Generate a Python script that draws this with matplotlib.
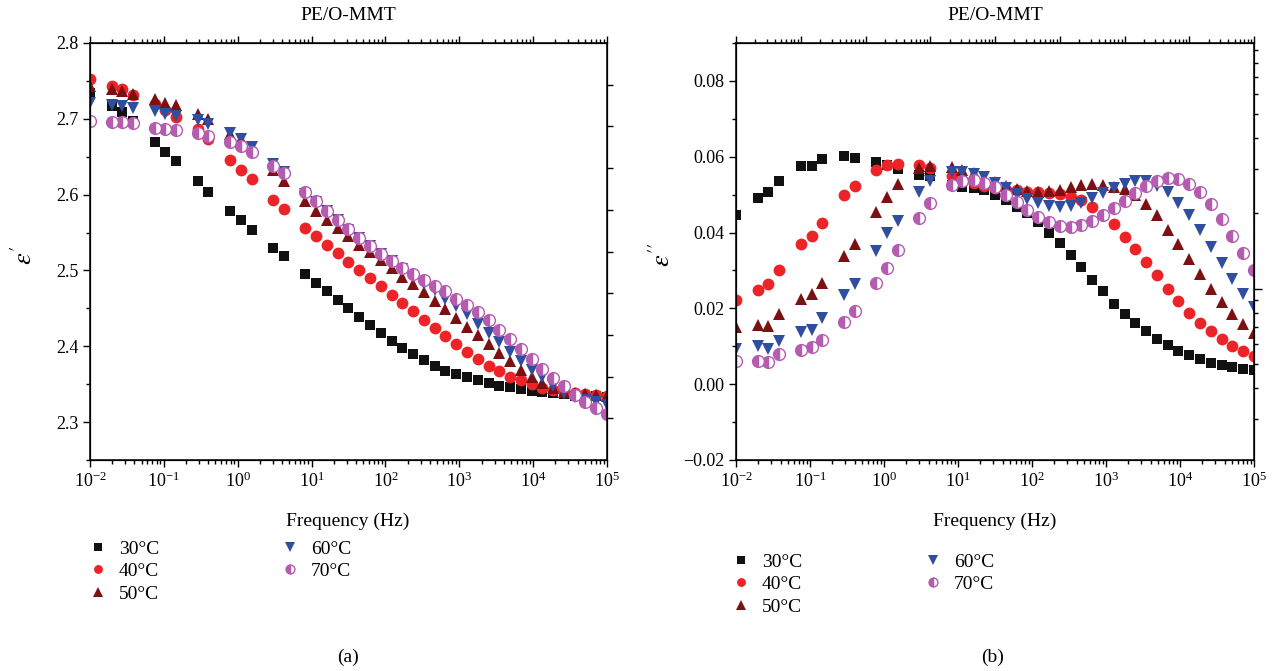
import matplotlib
matplotlib.use('Agg')
import matplotlib.pyplot as plt
from matplotlib.ticker import MultipleLocator, FixedLocator, LogLocator, NullFormatter, FormatStrFormatter, FuncFormatter

plt.rcParams['font.family'] = ['Liberation Serif', 'DejaVu Serif']
plt.rcParams['mathtext.fontset'] = 'stix'

# measurement frequencies (Hz)
freq = [0.01, 0.0196, 0.0274, 0.0383, 0.0750, 0.105, 0.147, 0.287, 0.402,
        0.787, 1.10, 1.54, 3.01, 4.22, 8.25, 11.5, 16.2, 22.6, 31.6, 44.2,
        61.9, 86.6, 121, 170, 237, 332, 464, 649, 909, 1270, 1780, 2490,
        3480, 4870, 6810, 9530, 13300, 18700, 26100, 36500, 51100, 71500, 100000]

# real permittivity
e1_30 = [2.734, 2.717, 2.709, 2.697, 2.670, 2.656, 2.645, 2.618, 2.604, 2.578, 2.567,
         2.554, 2.530, 2.519, 2.495, 2.484, 2.473, 2.461, 2.450, 2.439, 2.428, 2.417,
         2.407, 2.398, 2.390, 2.382, 2.374, 2.368, 2.363, 2.359, 2.355, 2.351, 2.348,
         2.346, 2.344, 2.341, 2.340, 2.338, 2.337, 2.335, 2.334, 2.334, 2.333]
e1_40 = [2.752, 2.743, 2.739, 2.732, 2.719, 2.711, 2.703, 2.687, 2.673, 2.646, 2.633,
         2.620, 2.593, 2.581, 2.556, 2.545, 2.534, 2.523, 2.511, 2.500, 2.490, 2.480,
         2.468, 2.457, 2.446, 2.435, 2.424, 2.413, 2.403, 2.393, 2.383, 2.374, 2.367,
         2.360, 2.355, 2.350, 2.345, 2.342, 2.340, 2.338, 2.337, 2.336, 2.335]
e1_50 = [2.743, 2.739, 2.737, 2.733, 2.726, 2.721, 2.718, 2.707, 2.700, 2.680, 2.674,
         2.663, 2.633, 2.618, 2.591, 2.579, 2.567, 2.556, 2.545, 2.534, 2.524, 2.514,
         2.503, 2.492, 2.482, 2.471, 2.460, 2.449, 2.437, 2.426, 2.415, 2.403, 2.391,
         2.380, 2.369, 2.360, 2.351, 2.345, 2.340, 2.338, 2.337, 2.336, 2.334]
e1_60 = [2.721, 2.718, 2.717, 2.714, 2.710, 2.706, 2.704, 2.698, 2.693, 2.681, 2.673,
         2.663, 2.640, 2.630, 2.601, 2.590, 2.578, 2.566, 2.554, 2.543, 2.532, 2.522,
         2.512, 2.502, 2.492, 2.482, 2.474, 2.463, 2.453, 2.442, 2.430, 2.418, 2.406,
         2.393, 2.381, 2.369, 2.359, 2.347, 2.338, 2.333, 2.329, 2.326, 2.322]
e1_70 = [2.697, 2.696, 2.696, 2.694, 2.688, 2.687, 2.685, 2.681, 2.677, 2.669, 2.664,
         2.656, 2.638, 2.628, 2.604, 2.591, 2.579, 2.567, 2.555, 2.543, 2.532, 2.522,
         2.513, 2.503, 2.495, 2.488, 2.480, 2.473, 2.463, 2.455, 2.445, 2.434, 2.422,
         2.409, 2.396, 2.383, 2.370, 2.358, 2.347, 2.336, 2.327, 2.319, 2.311]

# imaginary permittivity
e2_30 = [0.0445, 0.0490, 0.0506, 0.0537, 0.0575, 0.0576, 0.0594, 0.0601, 0.0597, 0.0585,
         0.0578, 0.0568, 0.0553, 0.0548, 0.0526, 0.0521, 0.0517, 0.0511, 0.0500, 0.0486,
         0.0468, 0.0451, 0.0429, 0.0400, 0.0373, 0.0340, 0.0308, 0.0276, 0.0245, 0.0212,
         0.0186, 0.0161, 0.0139, 0.0119, 0.0103, 0.0088, 0.0077, 0.0066, 0.0057, 0.0051,
         0.0046, 0.0040, 0.0037]
e2_40 = [0.0223, 0.0248, 0.0265, 0.0301, 0.0371, 0.0391, 0.0426, 0.0498, 0.0524, 0.0564,
         0.0577, 0.0582, 0.0577, 0.0570, 0.0548, 0.0539, 0.0532, 0.0523, 0.0517, 0.0513,
         0.0511, 0.0508, 0.0507, 0.0504, 0.0501, 0.0495, 0.0486, 0.0467, 0.0445, 0.0422,
         0.0389, 0.0356, 0.0323, 0.0287, 0.0252, 0.0219, 0.0188, 0.0162, 0.0139, 0.0118,
         0.0102, 0.0088, 0.0075]
e2_50 = [0.0150, 0.0156, 0.0154, 0.0184, 0.0225, 0.0239, 0.0267, 0.0338, 0.0371, 0.0453,
         0.0495, 0.0529, 0.0570, 0.0576, 0.0573, 0.0566, 0.0556, 0.0545, 0.0533, 0.0523,
         0.0515, 0.0510, 0.0508, 0.0509, 0.0513, 0.0519, 0.0525, 0.0528, 0.0526, 0.0521,
         0.0514, 0.0500, 0.0476, 0.0445, 0.0408, 0.0369, 0.0330, 0.0290, 0.0252, 0.0216,
         0.0185, 0.0158, 0.0134]
e2_60 = [0.0093, 0.0102, 0.0093, 0.0115, 0.0137, 0.0143, 0.0174, 0.0234, 0.0265, 0.0351,
         0.0398, 0.0431, 0.0508, 0.0535, 0.0561, 0.0561, 0.0555, 0.0546, 0.0532, 0.0517,
         0.0501, 0.0488, 0.0477, 0.0471, 0.0468, 0.0471, 0.0479, 0.0491, 0.0504, 0.0517,
         0.0529, 0.0535, 0.0535, 0.0522, 0.0506, 0.0479, 0.0446, 0.0406, 0.0362, 0.0320,
         0.0278, 0.0237, 0.0203]
e2_70 = [0.0062, 0.0062, 0.0058, 0.0080, 0.0090, 0.0099, 0.0117, 0.0165, 0.0193, 0.0267,
         0.0307, 0.0354, 0.0438, 0.0477, 0.0526, 0.0535, 0.0539, 0.0532, 0.0519, 0.0499,
         0.0480, 0.0460, 0.0442, 0.0427, 0.0418, 0.0415, 0.0420, 0.0430, 0.0446, 0.0464,
         0.0484, 0.0504, 0.0524, 0.0537, 0.0545, 0.0541, 0.0528, 0.0506, 0.0475, 0.0435,
         0.0391, 0.0345, 0.0301]

labels = ['30°C', '40°C', '50°C', '60°C', '70°C']
colors = ['#111111', '#ec2327', '#7b1113', '#2f4ea0', '#b55bb0']
markers = ['s', 'o', '^', 'v', 'o']
sizes = [7.5, 8.5, 9, 9, 8.5]

W, H = 1275, 671
fig = plt.figure(figsize=(W / 100, H / 100), dpi=100)

def fx(px):
    return px / W

def fy(py):
    return 1 - py / H

ax1 = fig.add_axes([fx(90), fy(460), fx(517), 417 / H])
ax2 = fig.add_axes([fx(736), fy(460), fx(518), 417 / H])

def draw(ax, series):
    handles = []
    for k, ys in enumerate(series):
        if k == 4:
            h, = ax.plot(freq, ys, linestyle='none', marker='o', markersize=sizes[k],
                         color=colors[k], fillstyle='left', markerfacecoloralt='white',
                         markeredgecolor=colors[k], markeredgewidth=1.0, label=labels[k])
        else:
            h, = ax.plot(freq, ys, linestyle='none', marker=markers[k], markersize=sizes[k],
                         color=colors[k], markeredgewidth=0, label=labels[k])
        handles.append(h)
    return handles

h1 = draw(ax1, [e1_30, e1_40, e1_50, e1_60, e1_70])
h2 = draw(ax2, [e2_30, e2_40, e2_50, e2_60, e2_70])

tick_fs = 13
for ax in (ax1, ax2):
    ax.set_xscale('log')
    ax.set_xlim(1e-2, 1e5)
    ax.xaxis.set_major_locator(LogLocator(base=10, numticks=20))
    ax.xaxis.set_minor_locator(LogLocator(base=10, subs=range(2, 10), numticks=20))
    ax.xaxis.set_minor_formatter(NullFormatter())
    ax.tick_params(which='both', direction='out', width=1, labelsize=tick_fs, top=False, right=False)
    ax.tick_params(which='major', length=5)
    ax.tick_params(which='minor', length=3)
    for s in ax.spines.values():
        s.set_linewidth(1.1)

ax1.set_ylim(2.25, 2.8)
ax1.yaxis.set_major_locator(MultipleLocator(0.1))
ax1.yaxis.set_minor_locator(MultipleLocator(0.05))
ax1.yaxis.set_major_formatter(FormatStrFormatter('%.1f'))

ax2.set_ylim(-0.02, 0.09)
ax2.yaxis.set_major_locator(FixedLocator([-0.02, 0.0, 0.02, 0.04, 0.06, 0.08]))
ax2.yaxis.set_minor_locator(MultipleLocator(0.01))
ax2.yaxis.set_major_formatter(FuncFormatter(lambda v, p: ('%.2f' % v).replace('-', '\u2212')))

# secondary unlabeled tick axes (top and right)
t1 = ax1.twiny()
t1.set_xscale('log')
t1.set_xlim(1e-2, 1e5)
t2 = ax2.twiny()
t2.set_xscale('log')
t2.set_xlim(1, 1e8)
for t in (t1, t2):
    t.xaxis.set_major_locator(LogLocator(base=10, numticks=20))
    t.xaxis.set_minor_locator(LogLocator(base=10, subs=range(2, 10), numticks=20))
    t.tick_params(which='both', direction='out', width=1, labeltop=False)
    t.tick_params(which='major', length=5)
    t.tick_params(which='minor', length=3)

r1 = ax1.twinx()
r1.set_ylim(0, 10)
r1.yaxis.set_major_locator(FixedLocator(range(1, 10)))
r1.tick_params(direction='out', width=1, length=4, labelright=False)

r2 = ax2.twinx()
r2.set_yscale('log')
r2.set_ylim(0.206, 9.6)
r2.yaxis.set_major_locator(LogLocator(base=10, numticks=10))
r2.yaxis.set_minor_locator(LogLocator(base=10, subs=range(2, 10), numticks=10))
r2.tick_params(which='both', direction='out', width=1, labelright=False)
r2.tick_params(which='major', length=6)
r2.tick_params(which='minor', length=3)

lab_fs = 14
fig.text(fx(348), fy(15), 'PE/O-MMT', ha='center', va='center', fontsize=lab_fs)
fig.text(fx(995), fy(15), 'PE/O-MMT', ha='center', va='center', fontsize=lab_fs)
fig.text(fx(348), fy(521), 'Frequency (Hz)', ha='center', va='center', fontsize=lab_fs)
fig.text(fx(995), fy(521), 'Frequency (Hz)', ha='center', va='center', fontsize=lab_fs)
fig.text(fx(24), fy(255), r"$\varepsilon'$", ha='center', va='center', rotation=90, fontsize=19)
fig.text(fx(662), fy(255), r"$\varepsilon''$", ha='center', va='center', rotation=90, fontsize=19)
fig.text(fx(348), fy(657), '(a)', ha='center', va='center', fontsize=lab_fs)
fig.text(fx(993), fy(657), '(b)', ha='center', va='center', fontsize=lab_fs)

for hs, x0, y0 in ((h1, 88, 540), (h2, 731, 553)):
    fig.legend(handles=hs, loc='upper left', bbox_to_anchor=(fx(x0), fy(y0)),
               ncol=2, frameon=False, fontsize=lab_fs, markerscale=0.75,
               handlelength=1.0, handletextpad=0.6, columnspacing=6.2,
               labelspacing=0.25, borderpad=0, borderaxespad=0)

fig.savefig('out.png', dpi=100)
